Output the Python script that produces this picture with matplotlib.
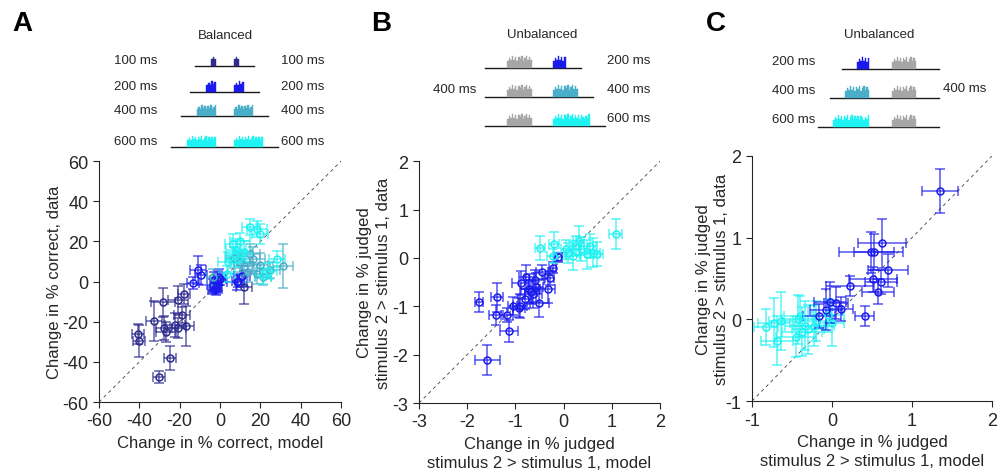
import numpy as np
import matplotlib.pyplot as plt

plt.rcParams['font.family'] = ['Liberation Sans', 'DejaVu Sans']
plt.rcParams['axes.unicode_minus'] = False

# colours per stimulus duration
c100 = '#2f2c8f'
c200 = '#1a1aee'
c400 = '#4aaec8'
c600 = '#1ef2f2'
cgray = '#a6a6a6'
axcol = '#262626'

# ---------------- panel A (balanced), % correct
a100_x = [-40.8, -40.0, -32.6, -28.4, -27.8, -26.8, -24.6, -30.4, -22.5, -21.0, -21.0, -18.7, -17.0, -17.7, 11.9]
a100_y = [-26.1, -29.5, -19.8, -10.4, -23.3, -25.3, -37.9, -47.6, -21.7, -9.2, -23.3, -16.5, -22.3, -6.2, -2.9]
a100_xe = [3, 3, 4, 6, 4, 5, 3, 3, 5, 5, 4, 4, 4, 3, 4]
a100_ye = [5, 8, 10, 7, 6, 5, 6, 3, 6, 7, 5, 4, 10, 5, 8]

a200_x = [-13.2, -11.0, -9.3, -3.5, -2.8, -2.0, -1.2, -0.5, -3.0, -1.5, 0.0, 8.3, 10.7, 9.0]
a200_y = [-0.9, 5.7, 3.4, -1.5, 1.0, -3.5, 0.5, 2.5, -4.0, -2.0, 1.5, -0.4, 2.9, 0.5]
a200_xe = [3, 4, 3, 3, 2, 3, 2, 3, 3, 2, 3, 5, 4, 3]
a200_ye = [3, 7, 5, 3, 4, 3, 5, 4, 2, 3, 3, 4, 5, 3]

a400_x = [-3.3, 7.0, 10.0, 12.0, 14.0, 14.9, 16.5, 18.2, 20.0, 21.5, 24.8, 31.4]
a400_y = [2.1, 12.0, 10.0, 8.0, 5.0, 13.7, 11.2, 3.7, 8.5, 2.1, 5.7, 7.9]
a400_xe = [3, 4, 5, 5, 4, 5, 6, 5, 4, 4, 5, 5]
a400_ye = [4, 5, 5, 5, 5, 5, 6, 5, 6, 4, 4, 11]

a600_x = [3.3, 4.0, 6.6, 7.4, 8.0, 9.1, 10.0, 12.0, 14.9, 18.2, 19.8, 21.5, 24.4, 28.1]
a600_y = [3.7, 10.0, 18.7, 12.8, 16.0, 11.2, 20.0, 15.0, 27.0, 26.1, 23.7, 2.9, 5.4, 11.2]
a600_xe = [4, 5, 4, 5, 5, 4, 5, 4, 4, 5, 4, 4, 4, 4]
a600_ye = [4, 5, 5, 4, 5, 4, 4, 5, 4, 4, 5, 4, 4, 4]

# ---------------- panel B (unbalanced, 400 ms first)
b200_x = [-1.58, -1.76, -1.38, -1.40, -1.13, -1.17, -1.06, -0.90, -0.92, -0.89, -0.77, -0.71,
          -0.63, -0.58, -0.50, -0.45, -0.33, -0.29, -0.23, -0.12, -0.60, -0.80, -0.68]
b200_y = [-2.11, -0.91, -0.81, -1.18, -1.51, -1.18, -0.99, -0.99, -1.03, -0.52, -0.40, -0.64,
          -0.75, -0.61, -0.93, -0.29, -0.64, -0.42, -0.20, 0.01, -0.45, -0.85, -0.70]
b200_xe = [0.26, 0.08, 0.12, 0.15, 0.18, 0.12, 0.10, 0.15, 0.12, 0.18, 0.15, 0.20,
           0.18, 0.15, 0.20, 0.12, 0.15, 0.10, 0.08, 0.08, 0.20, 0.15, 0.12]
b200_ye = [0.31, 0.21, 0.30, 0.20, 0.22, 0.15, 0.18, 0.25, 0.20, 0.25, 0.25, 0.30,
           0.28, 0.30, 0.30, 0.15, 0.30, 0.15, 0.12, 0.10, 0.20, 0.20, 0.25]

b600_x = [-0.49, -0.20, -0.23, 0.06, 0.19, 0.31, 0.37, 0.48, 0.55, 0.60, 0.69, 1.08, 0.25, 0.10]
b600_y = [0.20, 0.28, 0.04, 0.18, 0.04, 0.35, 0.18, 0.08, 0.25, 0.11, 0.08, 0.49, 0.25, 0.10]
b600_xe = [0.10, 0.10, 0.12, 0.12, 0.15, 0.12, 0.15, 0.15, 0.12, 0.15, 0.12, 0.13, 0.12, 0.10]
b600_ye = [0.25, 0.25, 0.15, 0.20, 0.30, 0.30, 0.25, 0.30, 0.25, 0.30, 0.25, 0.31, 0.20, 0.20]

# ---------------- panel C (unbalanced, 400 ms second)
c200_x = [1.35, 0.62, 0.49, 0.52, 0.70, 0.51, 0.61, 0.57, 0.22, 0.41, 0.11, -0.03, -0.08, -0.16, 0.05]
c200_y = [1.57, 0.93, 0.82, 0.82, 0.60, 0.49, 0.46, 0.34, 0.41, 0.04, 0.13, 0.21, 0.12, 0.04, 0.20]
c200_xe = [0.22, 0.30, 0.40, 0.25, 0.25, 0.30, 0.20, 0.20, 0.30, 0.12, 0.15, 0.20, 0.20, 0.20, 0.15]
c200_ye = [0.27, 0.30, 0.25, 0.22, 0.20, 0.15, 0.15, 0.15, 0.12, 0.12, 0.15, 0.25, 0.25, 0.15, 0.20]

c600_x = [-0.83, -0.72, -0.64, -0.69, -0.45, -0.42, -0.40, -0.34, -0.30, -0.23, -0.20, 0.00, -0.05, -0.38]
c600_y = [-0.09, -0.04, -0.02, -0.26, -0.21, 0.00, 0.04, -0.08, -0.12, -0.08, -0.02, -0.04, 0.05, -0.15]
c600_xe = [0.15, 0.20, 0.15, 0.20, 0.25, 0.20, 0.20, 0.25, 0.20, 0.25, 0.20, 0.15, 0.20, 0.25]
c600_ye = [0.22, 0.30, 0.35, 0.30, 0.25, 0.30, 0.25, 0.30, 0.30, 0.25, 0.25, 0.28, 0.20, 0.30]

# stimulus schematic: durations (ms) per row
durA = [100, 200, 400, 600]
durB = [200, 400, 600]
durC = [200, 400, 600]
burst_shape = [0.6, 0.85, 0.65, 1.0, 0.7, 0.9, 0.6, 0.95, 0.75, 1.0, 0.62, 0.8,
               0.98, 0.66, 0.88, 0.7, 0.92, 0.6, 0.9, 0.72]


def draw_points(ax, x, y, xe, ye, col):
    ax.errorbar(x, y, xerr=xe, yerr=ye, fmt='none', ecolor=col, elinewidth=1.1,
                capsize=3.5, capthick=1.1, alpha=0.75, zorder=2)
    ax.plot(x, y, 'o', ms=5, mfc='none', mec=col, mew=1.1, zorder=3)


def style_axes(ax, lo, hi, ticks):
    ax.plot([lo, hi], [lo, hi], ls=(0, (4, 4)), color='#404040', lw=0.6, zorder=1)
    ax.set_xlim(lo, hi)
    ax.set_ylim(lo, hi)
    ax.set_xticks(ticks)
    ax.set_yticks(ticks)
    for s in ['top', 'right']:
        ax.spines[s].set_visible(False)
    for s in ['left', 'bottom']:
        ax.spines[s].set_color(axcol)
        ax.spines[s].set_linewidth(0.8)
    ax.tick_params(direction='out', length=4, width=0.8, colors=axcol, labelsize=13)


def draw_burst(ax, x0, width, base, height, col):
    n = max(int(round(width / 1.5)), 3)
    xs = np.linspace(x0, x0 + width, n + 1)
    hs = [burst_shape[i % len(burst_shape)] for i in range(n)]
    hs = np.array(hs + [hs[-1]])
    ax.fill_between(xs, base, base - height * hs, step='post', color=col, lw=0.3,
                    edgecolor=col, zorder=3)


def draw_row(ax, e1, s2, d1, d2, c1, c2, base, scale, padl, padr, h=11):
    w1 = d1 * scale
    w2 = d2 * scale
    ax.plot([e1 - w1 - padl, s2 + w2 + padr], [base, base], color='#1a1a1a', lw=1.0, zorder=2)
    draw_burst(ax, e1 - w1, w1, base, h, c1)
    draw_burst(ax, s2, w2, base, h, c2)


fig = plt.figure(figsize=(10, 4.77), dpi=100)

axA = fig.add_axes([0.099, 0.155, 0.242, 0.505])
axB = fig.add_axes([0.419, 0.153, 0.241, 0.507])
axC = fig.add_axes([0.752, 0.157, 0.240, 0.514])

lkw = dict(fontsize=12, color=axcol, linespacing=1.3)
lab_model = 'Change in % judged\nstimulus 2 > stimulus 1, model'
lab_data = 'Change in % judged\nstimulus 2 > stimulus 1, data'

style_axes(axA, -60, 60, [-60, -40, -20, 0, 20, 40, 60])
draw_points(axA, a100_x, a100_y, a100_xe, a100_ye, c100)
draw_points(axA, a200_x, a200_y, a200_xe, a200_ye, c200)
draw_points(axA, a400_x, a400_y, a400_xe, a400_ye, c400)
draw_points(axA, a600_x, a600_y, a600_xe, a600_ye, c600)
axA.set_xlabel('Change in % correct, model', labelpad=4, **lkw)
axA.set_ylabel('Change in % correct, data', labelpad=0.5, **lkw)

style_axes(axB, -3, 2, [-3, -2, -1, 0, 1, 2])
draw_points(axB, b200_x, b200_y, b200_xe, b200_ye, c200)
draw_points(axB, b600_x, b600_y, b600_xe, b600_ye, c600)
axB.set_xlabel(lab_model, labelpad=4, **lkw)
axB.set_ylabel(lab_data, labelpad=1.5, **lkw)

style_axes(axC, -1, 2, [-1, 0, 1, 2])
draw_points(axC, c600_x, c600_y, c600_xe, c600_ye, c600)
draw_points(axC, c200_x, c200_y, c200_xe, c200_ye, c200)
axC.set_xlabel(lab_model, labelpad=4, **lkw)
axC.set_ylabel(lab_data, labelpad=-2.5, **lkw)

# overlay in pixel units for stimulus schematics and panel letters
ov = fig.add_axes([0, 0, 1, 1])
ov.set_xlim(0, 1000)
ov.set_ylim(477, 0)
ov.axis('off')

tkw = dict(fontsize=9.5, color=axcol, va='center')
colsA = [c100, c200, c400, c600]
baseA = [67, 93, 117, 148]
ov.text(225, 36, 'Balanced', ha='center', **tkw)
for d, c, b in zip(durA, colsA, baseA):
    draw_row(ov, 216, 234, d, d, c, c, b, 0.048, 16, 15)
    ov.text(157, b - 6, '%d ms' % d, ha='right', **tkw)
    ov.text(281, b - 6, '%d ms' % d, ha='left', **tkw)

colsB = [c200, c400, c600]
baseB = [69, 98, 127]
ov.text(542, 35, 'Unbalanced', ha='center', **tkw)
for d, c, b in zip(durB, colsB, baseB):
    draw_row(ov, 531.7, 553.3, 400, d, cgray, c, b, 0.061, 22.5, 15, h=12)
    ov.text(606.7, b - 8, '%d ms' % d, ha='left', **tkw)
ov.text(476.7, 90, '400 ms', ha='right', **tkw)

colsC = [c200, c400, c600]
baseC = [70, 99, 128]
ov.text(879, 35, 'Unbalanced', ha='center', **tkw)
for d, c, b in zip(durC, colsC, baseC):
    draw_row(ov, 869.3, 892.3, d, 400, c, cgray, b, 0.06, 15, 23, h=12)
    ov.text(815, b - 8, '%d ms' % d, ha='right', **tkw)
ov.text(942.7, 89, '400 ms', ha='left', **tkw)

for lab, xp in [('A', 22), ('B', 381), ('C', 716)]:
    ov.text(xp, 24, lab, fontsize=20, fontweight='bold', ha='center', va='center', color='black')

fig.savefig('out.png', dpi=100)
